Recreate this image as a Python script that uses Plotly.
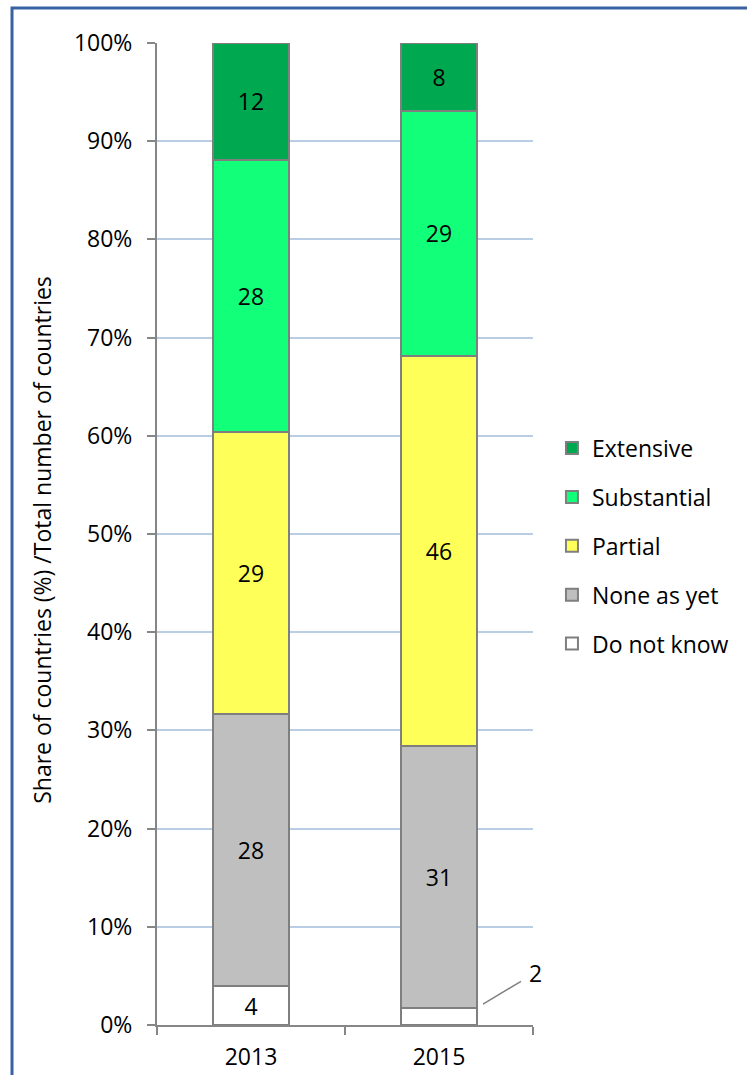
import plotly.graph_objects as go

# Survey years and response categories (stacked bottom to top)
years = ["2013", "2015"]
categories = ["Do not know", "None as yet", "Partial", "Substantial", "Extensive"]

# Number of countries per category and year
do_not_know = [4, 2]
none_as_yet = [28, 31]
partial = [29, 46]
substantial = [28, 29]
extensive = [12, 8]

series = [do_not_know, none_as_yet, partial, substantial, extensive]
colors = ["#FFFFFF", "#BFBFBF", "#FFFF5A", "#12FF7A", "#00A84F"]

FONT = "Open Sans"
FS = 23

fig = go.Figure()
for i, (name, vals, col) in enumerate(zip(categories, series, colors)):
    # the smallest 2015 value is labelled outside with a leader line
    labels = [str(v) for v in vals]
    if name == "Do not know":
        labels = [str(vals[0]), ""]
    fig.add_trace(go.Bar(
        x=years, y=vals, name=name,
        marker=dict(color=col, line=dict(color="#7F7F7F", width=2)),
        text=labels, texttemplate="%{text}",
        textposition="inside", insidetextanchor="middle", textangle=0,
        insidetextfont=dict(family=FONT, size=FS, color="black"),
        legendgroup=name, legendrank=len(categories) - i,
        hoverinfo="skip",
    ))

total_2015 = sum(s[1] for s in series)
share_small = do_not_know[1] / total_2015 * 100

fig.update_layout(
    width=747, height=1075,
    margin=dict(l=157, r=214, t=43, b=50, autoexpand=False),
    barmode="stack", barnorm="percent", bargap=0.6,
    plot_bgcolor="white", paper_bgcolor="white",
    font=dict(family=FONT, size=FS, color="black"),
    showlegend=True,
    legend=dict(
        xref="container", yref="container",
        x=0.7389, xanchor="left", y=0.6032, yanchor="top",
        traceorder="grouped", tracegroupgap=16,
        font=dict(family=FONT, size=FS, color="black"),
        bgcolor="rgba(0,0,0,0)",
    ),
    xaxis=dict(
        type="category", range=[-0.5, 1.5], showline=True,
        linecolor="#868686", linewidth=2, automargin=False,
        ticks="outside", tickson="boundaries", ticklen=8, tickwidth=2,
        tickcolor="#868686", showgrid=False, ticklabelstandoff=10,
    ),
    yaxis=dict(
        range=[0, 100], dtick=10, ticksuffix="%", showline=True,
        linecolor="#868686", linewidth=2, ticks="outside", ticklen=8,
        tickwidth=2, tickcolor="#868686", showgrid=True, automargin=False,
        gridcolor="#B9CDE5", gridwidth=1.5, zeroline=False,
        ticklabelstandoff=10,
    ),
    annotations=[
        dict(
            text="Share of countries (%) /Total number of countries",
            xref="paper", yref="paper", x=-0.306, y=0.494,
            xanchor="center", yanchor="middle",
            textangle=-90, showarrow=False,
            font=dict(family=FONT, size=FS, color="black"),
        ),
        dict(
            text=str(do_not_know[1]), xref="x", yref="y",
            x=1, y=share_small, xshift=44, yshift=4,
            showarrow=True, arrowhead=0, arrowwidth=1.5,
            arrowcolor="#7F7F7F", ax=52, ay=-31, borderpad=7,
            font=dict(family=FONT, size=FS, color="black"),
        ),
    ],
    shapes=[
        dict(type="rect", xref="paper", yref="paper",
             x0=-0.3856, y0=-0.08, x1=1.62, y1=1.0356,
             line=dict(color="#3862A0", width=3)),
    ],
)

fig.write_html("out.html")
